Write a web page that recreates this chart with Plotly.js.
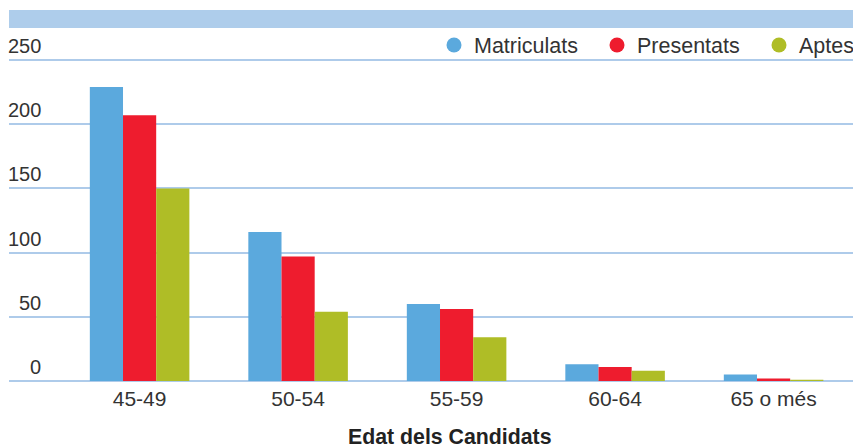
<!DOCTYPE html>
<html>
<head>
<meta charset="utf-8">
<script src="https://cdn.plot.ly/plotly-3.0.1.min.js"></script>
<style>html,body{margin:0;padding:0;background:#fff;}#chart{width:853px;height:448px;}</style>
</head>
<body>
<div id="chart"></div>
<script>
const categories = ["45-49", "50-54", "55-59", "60-64", "65 o més"];
const matriculats = [229, 116, 60, 13, 5];
const presentats = [207, 97, 56, 11, 2];
const aptes = [150, 54, 34, 8, 1];
const yTickVals = [0, 50, 100, 150, 200, 250];
const yTickLabels = ["0", "50", "100", "150", "200", "250"];
const seriesNames = ["Matriculats", "Presentats", "Aptes"];
const colors = ["#5BA9DD", "#EE1C2E", "#AFBD26"];

const FONT = "Liberation Sans, Arial, Helvetica, sans-serif";
const values = [matriculats, presentats, aptes];
const legendIds = ["legend", "legend2", "legend3"];
const legendLeftPx = [434, 597, 759];

const traces = [];
values.forEach((v, i) => {
  traces.push({
    type: "bar", x: categories, y: v, name: seriesNames[i],
    marker: {color: colors[i]}, showlegend: false, hoverinfo: "x+y"
  });
});
values.forEach((v, i) => {
  traces.push({
    type: "scatter", mode: "markers", x: [null], y: [null], name: seriesNames[i],
    marker: {color: colors[i], size: 15, symbol: "circle"}, showlegend: true, legend: legendIds[i]
  });
});

const annotations = yTickVals.map((v, i) => ({
  xref: "paper", yref: "y", x: 0.0403, y: v, xanchor: "right", yanchor: "bottom",
  text: yTickLabels[i], showarrow: false, font: {family: FONT, size: 20, color: "#333"}, yshift: 1
}));
annotations.push({
  xref: "paper", yref: "paper", x: (450 - 9) / 844, y: -(437 - 384) / 354,
  xanchor: "center", yanchor: "middle", text: "<b>Edat dels Candidats</b>",
  showarrow: false, font: {family: FONT, size: 21.3, color: "#222"}
});

const layout = {
  width: 853, height: 448,
  margin: {l: 9, r: 0, t: 30, b: 64, pad: 0, autoexpand: false},
  paper_bgcolor: "#fff", plot_bgcolor: "#fff",
  barmode: "group", bargap: 0.372, bargroupgap: 0,
  font: {family: FONT, size: 20, color: "#333"},
  xaxis: {
    type: "category", range: [-0.824, 4.501], showgrid: false, zeroline: false,
    showline: false, ticks: "", tickfont: {family: FONT, size: 21, color: "#333"}, fixedrange: true
  },
  yaxis: {
    range: [-2.336, 273.4], tickvals: yTickVals, showticklabels: false,
    showgrid: true, gridcolor: "#AECBEA", gridwidth: 2, zeroline: false, showline: false, ticks: "", fixedrange: true
  },
  shapes: [{
    type: "rect", xref: "paper", yref: "paper", x0: 0, x1: 1,
    y0: 1 + 2 / 354, y1: 1 + 20 / 354, fillcolor: "#AECDEB", line: {width: 0}, layer: "below"
  }],
  annotations: annotations
};
legendIds.forEach((id, i) => {
  layout[id] = {
    orientation: "h", x: (legendLeftPx[i] - 9) / 844, xanchor: "left", y: 1 - 15 / 354, yanchor: "middle",
    bgcolor: "rgba(0,0,0,0)", font: {family: FONT, size: 21.5, color: "#333"}
  };
});

Plotly.newPlot("chart", traces, layout, {displayModeBar: false, staticPlot: true});
</script>
</body>
</html>
